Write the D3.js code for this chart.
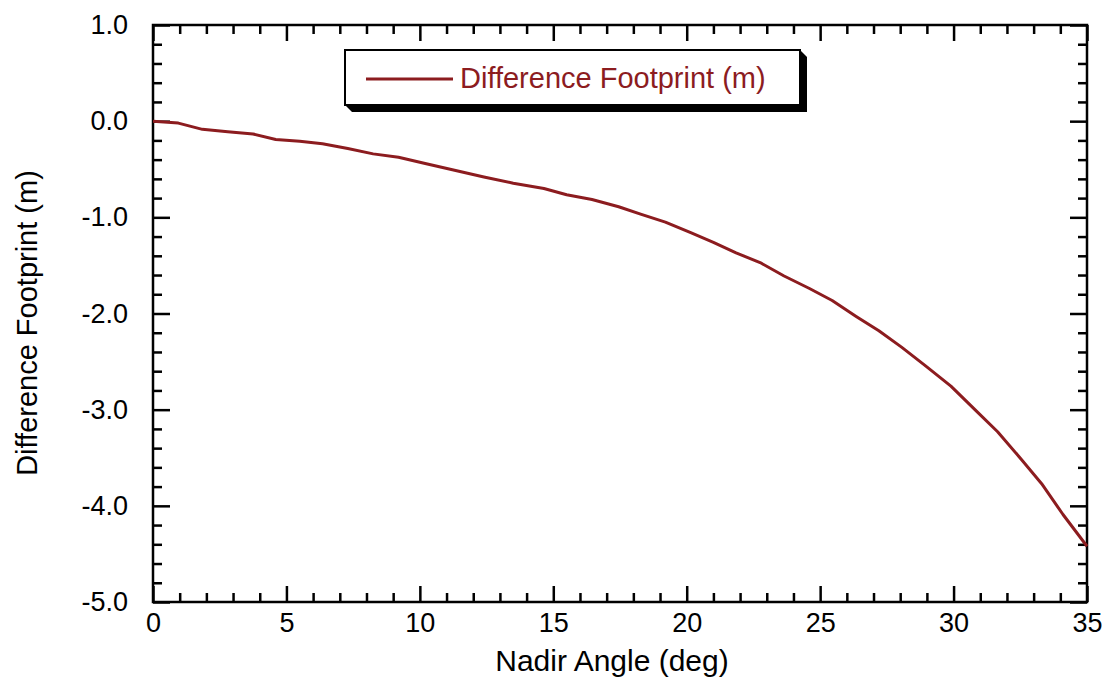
<!DOCTYPE html>
<html>
<head>
<meta charset="utf-8">
<script src="https://cdn.jsdelivr.net/npm/d3@7"></script>
<style>
  html, body { margin: 0; padding: 0; background: #fff; }
  svg { display: block; font-family: "Liberation Sans", Arial, Helvetica, sans-serif; }
</style>
</head>
<body>
<svg id="chart" width="1107" height="682"></svg>
<script>
// ---- data ----
const nadirAngle = [0, 0.95, 1.85, 2.8, 3.75, 4.6, 5.5, 6.35, 7.3, 8.25, 9.2, 10.2, 11.3, 12.4, 13.5,
  14.65, 15.5, 16.45, 17.45, 18.3, 19.2, 20.15, 21.0, 21.85, 22.75, 23.65, 24.6, 25.45, 26.35,
  27.2, 28.05, 28.95, 29.9, 30.8, 31.65, 32.55, 33.3, 34.1, 35];
const differenceFootprint = [0, -0.02, -0.085, -0.11, -0.133, -0.19, -0.21, -0.235, -0.285, -0.34,
  -0.375, -0.44, -0.51, -0.58, -0.645, -0.70, -0.765, -0.815, -0.89, -0.97, -1.05, -1.16, -1.26,
  -1.37, -1.47, -1.61, -1.74, -1.865, -2.03, -2.18, -2.35, -2.545, -2.755, -3.0, -3.23, -3.52,
  -3.77, -4.09, -4.42];
const xMajorTicks = [0, 5, 10, 15, 20, 25, 30, 35];
const yMajorTicks = [1, 0, -1, -2, -3, -4, -5];
const seriesName = "Difference Footprint (m)";
const xTitle = "Nadir Angle (deg)";
const yTitle = "Difference Footprint (m)";

// ---- layout ----
const pL = 153, pR = 1087, pT = 25, pB = 602;
const lineColor = "#8c1c1f";
const svg = d3.select("#chart");

const x = d3.scaleLinear().domain([0, 35]).range([pL, pR]);
const y = d3.scaleLinear().domain([-5, 1]).range([pB, pT]);

const xMinor = d3.range(0, 36, 1).filter(v => v % 5 !== 0);
const yMinor = d3.range(-50, 11, 2).map(v => v / 10).filter(v => Math.abs(Math.round(v) - v) > 1e-9);

const fmtY = v => d3.format(".1f")(v).replace("\u2212", "-");

function styleAxis(g, fontSize) {
  g.select(".domain").remove();
  g.selectAll(".tick line").attr("stroke", "#000").attr("stroke-width", 2.5);
  g.selectAll(".tick text").attr("fill", "#000").style("font-size", fontSize + "px")
    .style("font-family", '"Liberation Sans", Arial, sans-serif');
}

// bottom
svg.append("g").attr("transform", `translate(0,${pB})`)
  .call(d3.axisBottom(x).tickValues(xMajorTicks).tickSize(-16).tickSizeOuter(0).tickPadding(11).tickFormat(d3.format("d")))
  .call(g => styleAxis(g, 27));
svg.append("g").attr("transform", `translate(0,${pB})`)
  .call(d3.axisBottom(x).tickValues(xMinor).tickSize(-9).tickSizeOuter(0).tickFormat(""))
  .call(g => styleAxis(g, 27));
// top
svg.append("g").attr("transform", `translate(0,${pT})`)
  .call(d3.axisTop(x).tickValues(xMajorTicks).tickSize(-16).tickSizeOuter(0).tickFormat(""))
  .call(g => styleAxis(g, 27));
svg.append("g").attr("transform", `translate(0,${pT})`)
  .call(d3.axisTop(x).tickValues(xMinor).tickSize(-9).tickSizeOuter(0).tickFormat(""))
  .call(g => styleAxis(g, 27));
// left
svg.append("g").attr("transform", `translate(${pL},0)`)
  .call(d3.axisLeft(y).tickValues(yMajorTicks).tickSize(-17).tickSizeOuter(0).tickPadding(25).tickFormat(fmtY))
  .call(g => styleAxis(g, 27));
svg.append("g").attr("transform", `translate(${pL},0)`)
  .call(d3.axisLeft(y).tickValues(yMinor).tickSize(-9).tickSizeOuter(0).tickFormat(""))
  .call(g => styleAxis(g, 27));
// right
svg.append("g").attr("transform", `translate(${pR},0)`)
  .call(d3.axisRight(y).tickValues(yMajorTicks).tickSize(-17).tickSizeOuter(0).tickFormat(""))
  .call(g => styleAxis(g, 27));
svg.append("g").attr("transform", `translate(${pR},0)`)
  .call(d3.axisRight(y).tickValues(yMinor).tickSize(-9).tickSizeOuter(0).tickFormat(""))
  .call(g => styleAxis(g, 27));

// frame
svg.append("rect").attr("x", pL).attr("y", pT).attr("width", pR - pL).attr("height", pB - pT)
  .attr("fill", "none").attr("stroke", "#000").attr("stroke-width", 2.5);

// line
const data = nadirAngle.map((a, i) => ({ a, d: differenceFootprint[i] }));
svg.append("path").datum(data)
  .attr("fill", "none").attr("stroke", lineColor).attr("stroke-width", 3)
  .attr("stroke-linejoin", "round")
  .attr("d", d3.line().x(d => x(d.a)).y(d => y(d.d)));

// axis titles
svg.append("text").attr("x", 612).attr("y", 671).attr("text-anchor", "middle")
  .style("font-size", "30px").attr("fill", "#000").text(xTitle);
svg.append("text").attr("transform", "translate(37,323) rotate(-90)").attr("text-anchor", "middle")
  .style("font-size", "29px").attr("fill", "#000").text(yTitle);

// legend
const lg = svg.append("g");
const lx = 345, ly = 50, lw = 455, lh = 55, sh = 7;
lg.append("polygon")
  .attr("points", [[lx + lw, ly], [lx + lw + sh, ly + sh], [lx + lw + sh, ly + lh + sh],
                   [lx + sh, ly + lh + sh], [lx, ly + lh]].map(p => p.join(",")).join(" "))
  .attr("fill", "#000");
lg.append("rect").attr("x", lx).attr("y", ly).attr("width", lw).attr("height", lh)
  .attr("fill", "#fff").attr("stroke", "#000").attr("stroke-width", 2);
lg.append("line").attr("x1", 366).attr("x2", 453).attr("y1", 79).attr("y2", 79)
  .attr("stroke", lineColor).attr("stroke-width", 3);
lg.append("text").attr("x", 460).attr("y", 88).style("font-size", "29px").attr("fill", lineColor).text(seriesName);
</script>
</body>
</html>
